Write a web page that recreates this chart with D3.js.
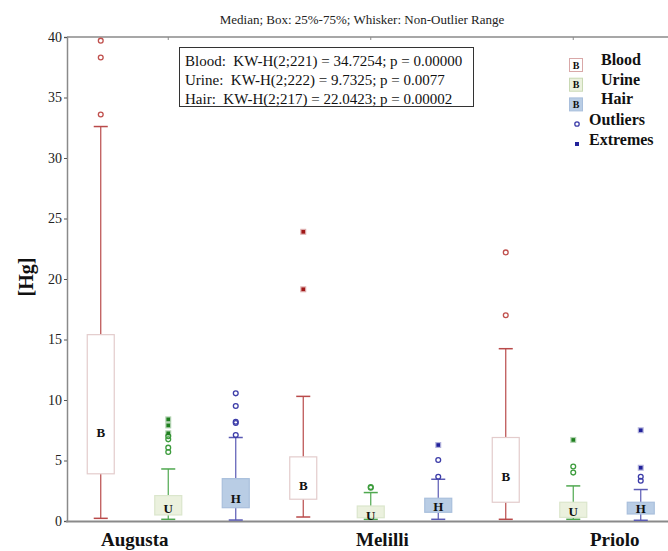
<!DOCTYPE html>
<html>
<head>
<meta charset="utf-8">
<script src="https://cdn.jsdelivr.net/npm/d3@7"></script>
<style>
body{margin:0;background:#fff;}
svg{display:block;}
text{font-family:"Liberation Serif","Times New Roman",serif;}
</style>
</head>
<body>
<svg id="chart" width="668" height="551"></svg>
<script>
// ---- data ----
const groups = ["Augusta", "Melilli", "Priolo"];
const series = ["Blood", "Urine", "Hair"];
const letters = ["B", "U", "H"];
// rows: groups; cols: series (Blood, Urine, Hair)
const whiskerLow  = [[0.22, 0.14, 0.08], [0.33, 0.14, 0.14], [0.14, 0.14, 0.06]];
const q1          = [[3.9, 0.5, 1.1],    [1.8, 0.27, 0.72],  [1.55, 0.3, 0.58]];
const median      = [[7.3, 1.0, 1.9],    [2.9, 0.5, 1.24],   [3.7, 0.77, 1.05]];
const q3          = [[15.4, 2.1, 3.5],   [5.3, 1.24, 1.88],  [6.9, 1.55, 1.55]];
const whiskerHigh = [[32.6, 4.3, 6.9],   [10.3, 2.35, 3.45], [14.24, 2.9, 2.6]];
const outliers = [
  [[39.7, 38.3, 33.6], [7.0, 6.75, 6.06, 5.7], [10.55, 9.5, 8.2, 8.1, 7.1]],
  [[], [2.8, 2.75], [3.66, 5.04]],
  [[22.2, 17.0], [4.5, 4.0], [3.66, 3.33]]
];
const extremes = [
  [[], [8.4, 7.9, 7.25], []],
  [[23.9, 19.15], [], [6.28]],
  [[], [6.7], [7.5, 4.4]]
];
const yTicks = [0, 5, 10, 15, 20, 25, 30, 35, 40];
const statLines = [
  "Blood:  KW-H(2;221) = 34.7254; p = 0.00000",
  "Urine:  KW-H(2;222) = 9.7325; p = 0.0077",
  "Hair:  KW-H(2;217) = 22.0423; p = 0.00002"
];
const title = "Median; Box: 25%-75%; Whisker: Non-Outlier Range";
const yLabel = "[Hg]";

// ---- styles ----
const whiskerColor = ["#b94a4a", "#4fa84f", "#5a5ab4"];
const boxFill      = ["#ffffff", "#ebf1de", "#b9cde5"];
const boxStroke    = ["#e3cccc", "#dbe6cc", "#a9bfdc"];
const legStroke    = ["#d9a8a8", "#c9d9b4", "#a9bfdc"];
const outColor     = ["#c0504d", "#3d9c3d", "#3c3ca8"];
const extColor     = ["#a01818", "#1f7f1f", "#22229a"];

const svg = d3.select("#chart");
const pLeft = 67, pTop = 37, pBottom = 521;
const bandW = 67.5;

const y = d3.scaleLinear().domain([0, 40]).range([pBottom, pTop]);
const x0 = d3.scaleBand().domain(groups).range([pLeft, pLeft + bandW * 9]);
const x1 = d3.scaleBand().domain(series).range([0, x0.bandwidth()]);
const cx = (gi, si) => x0(groups[gi]) + x1(series[si]) + x1.bandwidth() / 2;
const boxW = x1.bandwidth() * 0.4;
const capW = boxW * 0.52;

// title
svg.append("text").attr("x", 362).attr("y", 24).attr("text-anchor", "middle")
  .attr("font-size", 13).attr("fill", "#222").text(title);

// frame lines
svg.append("line").attr("x1", pLeft).attr("x2", 668).attr("y1", pTop).attr("y2", pTop)
  .attr("stroke", "#8a8a8a").attr("stroke-width", 1.5);
groups.forEach((g, gi) => {
  const xc = cx(gi, 1);
  svg.append("line").attr("x1", xc).attr("x2", xc).attr("y1", pTop).attr("y2", pTop + 3)
    .attr("stroke", "#8a8a8a").attr("stroke-width", 1);
});

// y axis
const yAxis = d3.axisLeft(y).tickValues(yTicks).tickSize(3).tickPadding(2).tickFormat(d3.format("d"));
const ya = svg.append("g").attr("transform", `translate(${pLeft},0)`).call(yAxis);
ya.select(".domain").attr("stroke", "#8a8a8a").attr("stroke-width", 1.5);
ya.selectAll(".tick line").attr("stroke", "#555");
ya.selectAll(".tick text").attr("font-family", "Liberation Serif, serif").attr("font-size", 14).attr("fill", "#222");

// x axis baseline
svg.append("line").attr("x1", pLeft - 1).attr("x2", 668).attr("y1", pBottom + 0.5).attr("y2", pBottom + 0.5)
  .attr("stroke", "#8a8a8a").attr("stroke-width", 1.8);

// y label
svg.append("text").attr("transform", `translate(33,277) rotate(-90)`).attr("text-anchor", "middle")
  .attr("font-size", 20).attr("font-weight", "bold").attr("fill", "#111").text(yLabel);

// boxes
const plot = svg.append("g");
groups.forEach((g, gi) => {
  series.forEach((s, si) => {
    const xc = cx(gi, si);
    const gg = plot.append("g");
    gg.append("line").attr("x1", xc).attr("x2", xc).attr("y1", y(whiskerHigh[gi][si])).attr("y2", y(q3[gi][si]))
      .attr("stroke", whiskerColor[si]).attr("stroke-width", 1.2);
    gg.append("line").attr("x1", xc).attr("x2", xc).attr("y1", y(q1[gi][si])).attr("y2", y(whiskerLow[gi][si]))
      .attr("stroke", whiskerColor[si]).attr("stroke-width", 1.2);
    [whiskerHigh[gi][si], whiskerLow[gi][si]].forEach(v => {
      gg.append("line").attr("x1", xc - capW / 2).attr("x2", xc + capW / 2).attr("y1", y(v)).attr("y2", y(v))
        .attr("stroke", whiskerColor[si]).attr("stroke-width", 1.5);
    });
    gg.append("rect").attr("x", xc - boxW / 2).attr("y", y(q3[gi][si]))
      .attr("width", boxW).attr("height", y(q1[gi][si]) - y(q3[gi][si]))
      .attr("fill", boxFill[si]).attr("stroke", boxStroke[si]).attr("stroke-width", 1.2);
    gg.append("text").attr("x", xc).attr("y", y(median[gi][si])).attr("dy", "0.35em")
      .attr("text-anchor", "middle").attr("font-size", 13).attr("font-weight", "bold").attr("fill", "#111")
      .text(letters[si]);
    outliers[gi][si].forEach(v => {
      gg.append("circle").attr("cx", xc).attr("cy", y(v)).attr("r", 2.4)
        .attr("fill", "none").attr("stroke", outColor[si]).attr("stroke-width", 1.3);
    });
    extremes[gi][si].forEach(v => {
      const yy = y(v);
      gg.append("rect").attr("x", xc - 3).attr("y", yy - 3).attr("width", 6).attr("height", 6)
        .attr("fill", extColor[si]).attr("opacity", 0.35);
      gg.append("rect").attr("x", xc - 1.8).attr("y", yy - 1.8).attr("width", 3.6).attr("height", 3.6)
        .attr("fill", extColor[si]);
    });
  });
});

// group labels
const labelX = [101, 356, 590];
groups.forEach((g, gi) => {
  svg.append("text").attr("x", labelX[gi]).attr("y", 546).attr("font-size", 19)
    .attr("font-weight", "bold").attr("fill", "#111").text(g);
});

// stats box
svg.append("rect").attr("x", 179.5).attr("y", 47.5).attr("width", 294).attr("height", 59)
  .attr("fill", "#fff").attr("stroke", "#333").attr("stroke-width", 1);
statLines.forEach((t, i) => {
  svg.append("text").attr("x", 185).attr("y", 65.5 + i * 19).attr("font-size", 15)
    .attr("xml:space", "preserve").style("white-space", "pre")
    .attr("fill", "#111").text(t);
});

// legend
const lg = svg.append("g");
series.forEach((s, si) => {
  const yy = 58 + si * 19.7;
  lg.append("rect").attr("x", 569.5).attr("y", yy + 0.5).attr("width", 13).attr("height", 13)
    .attr("fill", boxFill[si]).attr("stroke", legStroke[si]).attr("stroke-width", 1);
  lg.append("text").attr("x", 576).attr("y", yy + 7).attr("dy", "0.35em").attr("text-anchor", "middle")
    .attr("font-size", 10).attr("font-weight", "bold").attr("fill", "#111").text("B");
  lg.append("text").attr("x", 601).attr("y", 65 + si * 19.7).attr("font-size", 16)
    .attr("font-weight", "bold").attr("fill", "#111").text(s);
});
lg.append("circle").attr("cx", 577).attr("cy", 124).attr("r", 2.2).attr("fill", "none")
  .attr("stroke", outColor[2]).attr("stroke-width", 1.3);
lg.append("text").attr("x", 589).attr("y", 125).attr("font-size", 16).attr("font-weight", "bold")
  .attr("fill", "#111").text("Outliers");
lg.append("rect").attr("x", 575).attr("y", 142).attr("width", 4).attr("height", 4).attr("fill", extColor[2]);
lg.append("text").attr("x", 589).attr("y", 145).attr("font-size", 16).attr("font-weight", "bold")
  .attr("fill", "#111").text("Extremes");
</script>
</body>
</html>
